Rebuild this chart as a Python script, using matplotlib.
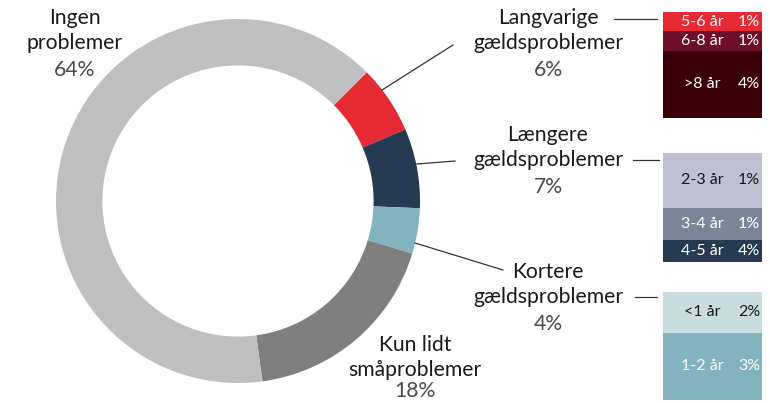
import matplotlib.pyplot as plt
import numpy as np

plt.rcParams['font.family'] = ['Lato', 'DejaVu Sans']

# donut data
names = ["Langvarige\ngældsproblemer", "Længere\ngældsproblemer", "Kortere\ngældsproblemer",
         "Kun lidt\nsmåproblemer", "Ingen\nproblemer"]
shares = [6, 7, 4, 18, 64]
donut_colors = ['#e52a33', '#263a51', '#82b3bf', '#7f7f7f', '#bfbfbf']

# breakdown bars (relative heights)
top_labels = ["5-6 år", "6-8 år", ">8 år"]
top_pct = ["1%", "1%", "4%"]
top_h = [1.1, 1.1, 3.8]
top_colors = ['#e52a33', '#6d0e2b', '#3b0006']
top_text = ['white', 'white', 'white']

mid_labels = ["2-3 år", "3-4 år", "4-5 år"]
mid_pct = ["1%", "1%", "4%"]
mid_h = [3.5, 2.1, 1.4]
mid_colors = ['#bfc0d0', '#7a8697', '#263a51']
mid_text = ['#1a1a1a', 'white', 'white']

low_labels = ["<1 år", "1-2 år"]
low_pct = ["2%", "3%"]
low_h = [1.5, 2.5]
low_colors = ['#c9dde1', '#82b3bf']
low_text = ['#1a1a1a', 'white']

W, H = 770, 403
fig = plt.figure(figsize=(W / 100, H / 100), dpi=100)
ax = fig.add_axes([0, 0, 1, 1])

def Y(y):
    return H - y

cx, cy, R = 238, Y(201), 182
ax.pie(shares, colors=donut_colors, startangle=45, counterclock=False,
       center=(cx, cy), radius=R, wedgeprops=dict(width=R * 0.255, linewidth=0),
       frame=True)
ax.set_xlim(0, W)
ax.set_ylim(0, H)
ax.set_aspect('equal')
ax.axis('off')

fs = 15.2
def label(x, y0, name, pct, gap=52):
    l1, l2 = name.split("\n")
    ax.text(x, Y(y0), l1, ha='center', va='center', fontsize=fs, color='#1a1a1a')
    ax.text(x, Y(y0 + 25), l2, ha='center', va='center', fontsize=fs, color='#1a1a1a')
    ax.text(x, Y(y0 + gap), pct, ha='center', va='center', fontsize=fs, color='#4a4a4a')

pct_txt = [f"{s}%" for s in shares]
label(548, 18, names[0], pct_txt[0])
label(548, 135, names[1], pct_txt[1])
label(548, 272, names[2], pct_txt[2])
label(415, 345, names[3], pct_txt[3], gap=46)
label(75, 18, names[4], pct_txt[4])

lc = '#333333'
lw = 0.9
# leader lines
ax.plot([382, 453], [Y(90), Y(45)], color=lc, lw=lw)
ax.plot([417, 455], [Y(164), Y(161)], color=lc, lw=lw)
ax.plot([415, 503], [Y(243), Y(270)], color=lc, lw=lw)
ax.plot([614, 657], [Y(19), Y(19)], color=lc, lw=lw)
ax.plot([633, 659], [Y(160), Y(160)], color=lc, lw=lw)
ax.plot([635, 657], [Y(297), Y(297)], color=lc, lw=lw)

def stack(y_top, y_bot, heights, colors, labels, pcts, tcols):
    bax = fig.add_axes([663 / W, (H - y_bot) / H, 99 / W, (y_bot - y_top) / H])
    bottom = 0
    for h, c, lab, p, tc in zip(heights, colors, labels, pcts, tcols):
        bax.bar(0, h, bottom=bottom, width=1, color=c, linewidth=0)
        mid = bottom + h / 2
        bax.text(-0.1, mid, lab, ha='center', va='center', fontsize=11.5, color=tc)
        bax.text(0.37, mid, p, ha='center', va='center', fontsize=11.5, color=tc)
        bottom += h
    bax.set_xlim(-0.5, 0.5)
    bax.set_ylim(bottom, 0)
    bax.axis('off')

stack(12, 118, top_h, top_colors, top_labels, top_pct, top_text)
stack(153, 262, mid_h, mid_colors, mid_labels, mid_pct, mid_text)
stack(292, 400, low_h, low_colors, low_labels, low_pct, low_text)

fig.savefig('out.png', dpi=100)
